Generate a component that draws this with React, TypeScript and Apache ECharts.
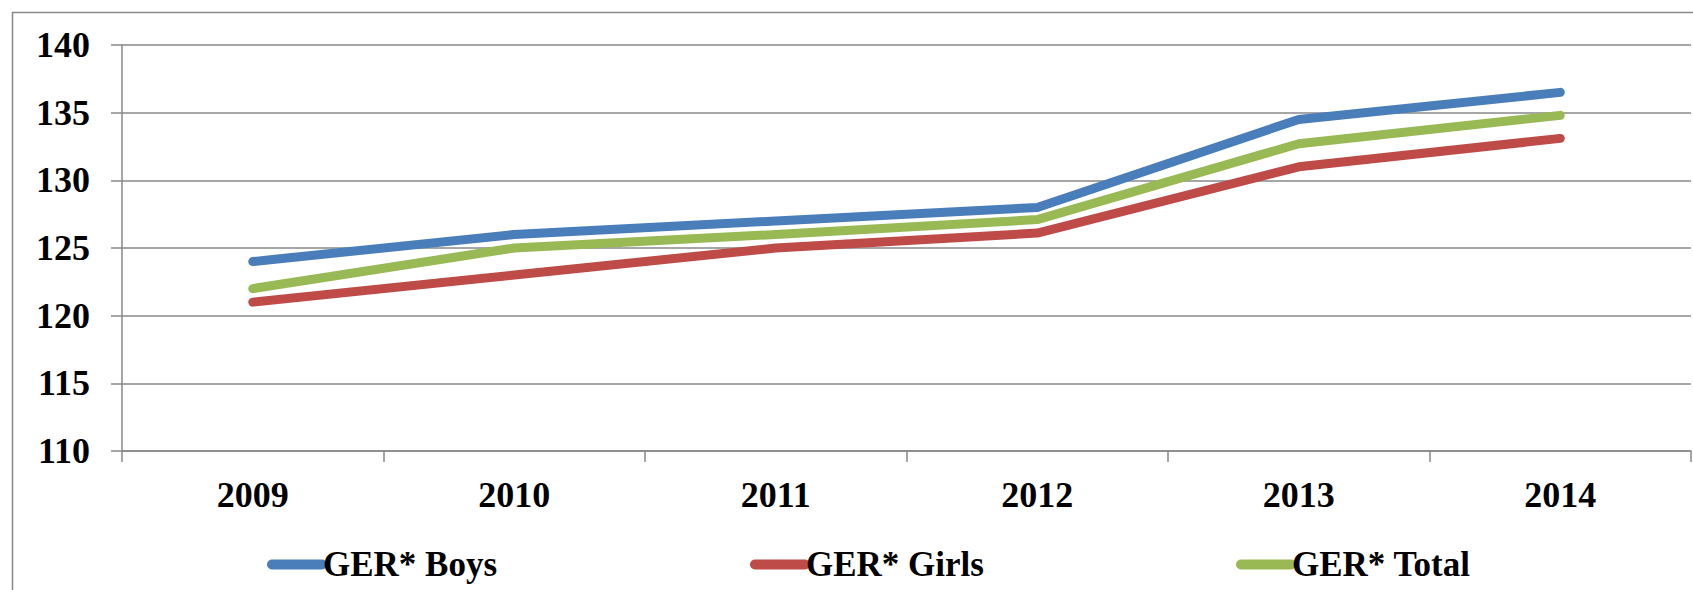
import React, { useEffect, useRef } from "react";
import * as echarts from "echarts";

const years = ["2009", "2010", "2011", "2012", "2013", "2014"];
const boys = [124, 126, 127, 128, 134.5, 136.5];
const girls = [121, 123, 125, 126.1, 131, 133.1];
const total = [122, 125, 126, 127.1, 132.7, 134.8];
const seriesNames = ["GER* Boys", "GER* Girls", "GER* Total"];
const colors = ["#4a7ebb", "#be4b48", "#98b954"];

const FONT = "'Liberation Serif', 'Times New Roman', serif";
const GRAY = "#898989";

export default function App() {
  const ref = useRef<HTMLDivElement>(null);
  useEffect(() => {
    if (!ref.current) return;
    const chart = echarts.init(ref.current, undefined, { renderer: "svg" });
    const values = [boys, girls, total];
    const legendLeft = [262, 745, 1231];
    chart.setOption({
      animation: false,
      backgroundColor: "#ffffff",
      grid: { left: 122, top: 45, width: 1569, height: 406, containLabel: false },
      graphic: [
        {
          type: "rect",
          shape: { x: 12.5, y: 12.5, width: 1720, height: 620 },
          style: { fill: "none", stroke: GRAY, lineWidth: 1.5 },
          silent: true,
        },
      ],
      legend: seriesNames.map((n, i) => ({
        data: [n],
        left: legendLeft[i],
        top: 542,
        icon: "path://M5,0 L55,0 A5,5 0 0 1 55,10 L5,10 A5,5 0 0 1 5,0 Z",
        itemWidth: 60,
        itemHeight: 10,
        itemGap: 0,
        textStyle: {
          fontFamily: FONT,
          fontWeight: "bold",
          fontSize: 35,
          color: "#000",
          padding: [0, 0, 0, -9],
        },
      })),
      xAxis: {
        type: "category",
        data: years,
        boundaryGap: true,
        axisLine: { show: true, lineStyle: { color: GRAY, width: 1.5 } },
        axisTick: { show: true, length: 11, lineStyle: { color: GRAY, width: 1.5 } },
        axisLabel: {
          margin: 26,
          fontFamily: FONT,
          fontWeight: "bold",
          fontSize: 36,
          color: "#000",
        },
      },
      yAxis: {
        type: "value",
        min: 110,
        max: 140,
        interval: 5,
        axisLine: { show: true, lineStyle: { color: GRAY, width: 1.5 } },
        axisTick: { show: true, length: 11, lineStyle: { color: GRAY, width: 1.5 } },
        splitLine: { show: true, lineStyle: { color: GRAY, width: 1.5 } },
        axisLabel: {
          margin: 32,
          fontFamily: FONT,
          fontWeight: "bold",
          fontSize: 36,
          color: "#000",
        },
      },
      series: seriesNames.map((n, i) => ({
        name: n,
        type: "line",
        data: values[i],
        symbol: "none",
        color: colors[i],
        lineStyle: { width: 9, color: colors[i], cap: "round", join: "round" },
      })),
    });
    return () => chart.dispose();
  }, []);
  return (
    <div
      ref={ref}
      style={{ position: "fixed", left: 0, top: 0, width: 1693, height: 590 }}
    />
  );
}
